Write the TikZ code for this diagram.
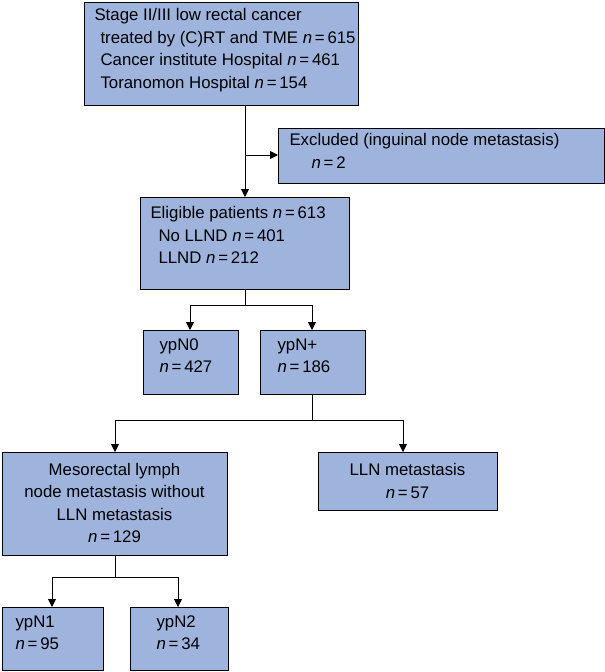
\documentclass[tikz,border=0pt]{standalone}
\usepackage{fontspec}
\setmainfont{Liberation Sans}
\usetikzlibrary{arrows.meta}
\newcommand{\nn}{\textit{n}\,=\,}
\begin{document}
\begin{tikzpicture}[x=1pt,y=-1pt,
  box/.style={draw=black,line width=0.9pt,fill=boxblue,inner sep=0pt},
  txt/.style={font=\fontsize{16.8}{22.5}\selectfont,align=left,anchor=north west},
  ctxt/.style={font=\fontsize{16.8}{22.5}\selectfont,align=center},
  arr/.style={line width=0.9pt,-{Triangle[length=8pt,width=8pt]}},
  ln/.style={line width=0.9pt}]
\definecolor{boxblue}{HTML}{9FB4DD}
\useasboundingbox (0,0) rectangle (605,672);
\draw[box] (84,2) rectangle (358,105); \coordinate (topB) at (245,105);
\node[txt] (t1) at (91,5) {Stage II/III low rectal cancer\\\hspace{6pt}treated by (C)RT and TME \nn615\\\hspace{6pt}Cancer institute Hospital \nn461\\\hspace{6pt}Toranomon Hospital \nn154};
\draw[box] (278,128) rectangle (604,183); \coordinate (excL) at (278,155);
\node[txt] (t2) at (286,130) {Excluded (inguinal node metastasis)\\\hspace{22pt}\nn2};
\draw[box] (140,197) rectangle (349,289); \coordinate (eliT) at (245,197);
\node[txt] (t3) at (147,203) {Eligible patients \nn613\\\hspace{8pt}No LLND \nn401\\\hspace{8pt}LLND \nn212};
\draw[box] (143,330) rectangle (238,394);
\node[txt] (t4) at (156,335) {ypN0\\\nn427};
\draw[box] (260,330) rectangle (365,394);
\node[txt] (t5) at (274,335) {ypN+\\\nn186};
\draw[box] (2,452) rectangle (227,555);
\node[ctxt] (t6) at (114.5,503) {Mesorectal lymph\\node metastasis without\\LLN metastasis\\\nn129};
\draw[box] (318,452) rectangle (497,510);
\node[ctxt] (t7) at (407.5,481) {LLN metastasis\\\nn57};
\draw[box] (2,607) rectangle (103,670);
\node[txt] (t8) at (12,612) {ypN1\\\nn95};
\draw[box] (130,607) rectangle (228,670);
\node[txt] (t9) at (153,612) {ypN2\\\nn34};
\coordinate (j1) at (245,155);
\draw[ln] (topB) -- (j1); \draw[arr] (j1) -- (eliT);
\draw[arr] (j1) -- (excL);
\draw[ln] (245,289) -- (245,305); \draw[ln] (190,305) -- (312,305);
\draw[arr] (190,305) -- (190,330); \draw[arr] (312,305) -- (312,330);
\draw[ln] (312,394) -- (312,420); \draw[ln] (115,420) -- (403,420);
\draw[arr] (115,420) -- (115,452); \draw[arr] (403,420) -- (403,452);
\draw[ln] (115,555) -- (115,577); \draw[ln] (52,577) -- (178,577);
\draw[arr] (52,577) -- (52,607); \draw[arr] (178,577) -- (178,607);
\end{tikzpicture}
\end{document}
